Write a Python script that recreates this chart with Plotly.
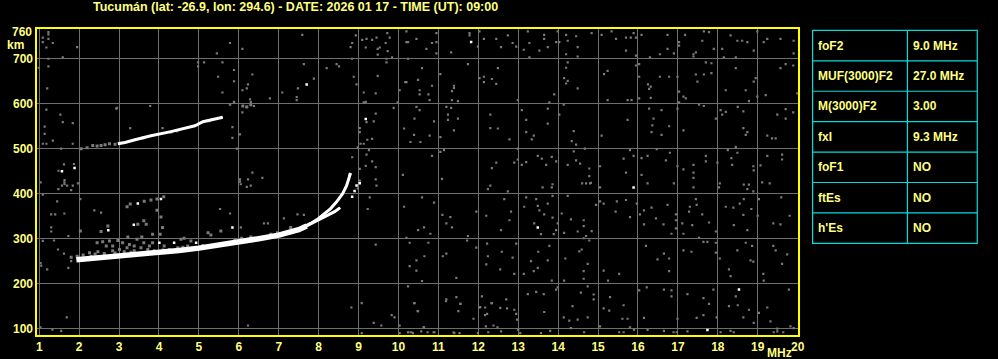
import plotly.graph_objects as go

# ---------------- data ----------------
title_text = "Tucumán (lat: -26.9, lon: 294.6) - DATE: 2026 01 17 - TIME (UT): 09:00"
x_ticks = list(range(1, 21))
y_ticks = [100, 200, 300, 400, 500, 600, 700]
y_top_label = 760

table_params = ["foF2", "MUF(3000)F2", "M(3000)F2", "fxI", "foF1", "ftEs", "h'Es"]
table_values = ["9.0 MHz", "27.0 MHz", "3.00", "9.3 MHz", "NO", "NO", "NO"]

# ordinary F trace (thick lower part, thinner upper part)
o_low_f = [1.93, 2.2, 2.5, 3.0, 3.5, 4.0, 4.5, 5.0, 5.5, 6.0, 6.5, 7.0, 7.5, 7.7]
o_low_h = [253, 255, 257, 260, 265, 269, 274, 279, 285, 291, 300, 308, 320, 328]
o_high_f = [7.6, 7.8, 8.0, 8.15, 8.3, 8.45, 8.6, 8.7, 8.8]
o_high_h = [325, 334, 345, 356, 367, 382, 400, 418, 446]
# extraordinary branch
x_f = [7.6, 7.8, 8.0, 8.2, 8.4, 8.54]
x_h = [324, 333, 341, 350, 360, 369]
x_dots = [(8.84, 393), (8.9, 406), (8.95, 418), (8.78, 442), (9.03, 423), (9.18, 566)]
# second hop trace
f2_white_f = [2.97, 3.15, 3.4, 3.8, 4.3, 4.65, 4.9, 5.1, 5.4, 5.6]
f2_white_h = [511, 514, 520, 529, 538, 545, 551, 560, 565, 570]
f2_grey = [(2.05, 500), (2.2, 502), (2.34, 507), (2.45, 506), (2.55, 507), (2.65, 509),
           (2.76, 511), (2.9, 510), (3.01, 512), (3.6, 524), (4.3, 537), (4.45, 540),
           (5.25, 562), (6.1, 595), (6.2, 593), (6.3, 598)]

# grey spread echoes around the main trace
spread = [(1.8, 259), (1.95, 261), (2.26, 269), (2.3, 261), (2.47, 271), (2.63, 267),
          (2.84, 273), (3.01, 276), (3.13, 271), (3.2, 280), (3.38, 273), (3.55, 280),
          (3.72, 276), (3.88, 273), (4.26, 276), (4.47, 280), (4.72, 284), (4.84, 276),
          (5.3, 284), (5.7, 291), (5.9, 296), (6.07, 301), (6.3, 304), (6.8, 310),
          (6.97, 313), (7.3, 325), (2.45, 291), (2.59, 293), (2.76, 295), (2.68, 284),
          (2.84, 284), (2.97, 296), (3.09, 291), (3.22, 304), (3.26, 287), (3.38, 284),
          (3.45, 299), (3.57, 304), (3.62, 291), (3.76, 284), (3.84, 291), (4.03, 310),
          (3.84, 310), (3.47, 332), (3.68, 332), (3.62, 340), (4.09, 325), (4.13, 284),
          (4.55, 299), (4.63, 301), (4.8, 295), (3.2, 371), (3.28, 377), (3.63, 383),
          (3.8, 386), (3.95, 388), (4.12, 393), (3.95, 363), (4.05, 348), (5.23, 313),
          (5.3, 308), (5.55, 317), (2.03, 317), (2.55, 316), (2.72, 328), (2.1, 264),
          (2.4, 266), (2.9, 268), (3.3, 270), (4.1, 275), (4.6, 281), (5.1, 285)]
white_dots = [(4.01, 291), (3.37, 331), (2.73, 319), (4.38, 291), (4.93, 291), (3.47, 378),
              (4.05, 388), (5.84, 325), (1.885, 457), (1.57, 450), (7.7, 643), (13.49, 325),
              (15.89, 414), (18.53, 187), (17.74, 97), (11.82, 737)]

noise_top = [(10.2, 761), (10.24, 737), (10.45, 744), (10.7, 722), (10.84, 735), (10.95, 757),
             (10.95, 737), (10.95, 712), (11.32, 714), (11.78, 757), (11.78, 752), (11.99, 727),
             (12.03, 761), (12.14, 744), (12.45, 744), (12.57, 726), (12.74, 752), (12.86, 735),
             (12.95, 727), (13.14, 720), (13.24, 761), (13.28, 735), (13.28, 703), (13.53, 718),
             (13.65, 753), (13.65, 744), (13.74, 726), (13.95, 737), (13.99, 761), (14.03, 737),
             (14.2, 753), (14.2, 710), (14.24, 740), (14.45, 750), (14.49, 726), (14.49, 705),
             (14.84, 757), (15.09, 753), (15.34, 761), (15.45, 744), (15.7, 747), (15.7, 718),
             (15.82, 747), (15.89, 757), (15.95, 747), (15.95, 707), (16.09, 753), (16.3, 703),
             (16.55, 710), (16.74, 753), (16.74, 722), (16.9, 712), (17.03, 737), (17.03, 729),
             (17.18, 753), (17.39, 710), (17.39, 705), (17.45, 714), (17.61, 740), (17.65, 761),
             (17.78, 759), (17.9, 722), (18.11, 722), (18.15, 703), (18.32, 752), (18.45, 703),
             (18.49, 740), (18.61, 740), (18.74, 737), (18.9, 718), (18.99, 761), (19.15, 737),
             (19.24, 744), (19.57, 744), (19.9, 740), (19.9, 712)]

noise_600 = [(10.24, 700), (10.59, 679), (10.2, 648), (10.49, 653), (10.53, 630), (10.53, 621),
             (10.75, 621), (10.84, 640), (10.78, 608), (11.05, 666), (11.39, 640), (11.39, 635),
             (11.34, 628), (11.34, 608), (11.49, 606), (11.74, 688), (12.03, 657), (12.14, 660),
             (12.14, 648), (12.34, 655), (12.45, 644), (12.49, 679), (12.99, 608), (13.78, 603),
             (13.9, 621), (14.2, 680), (14.24, 692), (14.15, 657), (14.24, 651), (14.2, 645),
             (14.49, 634), (15.15, 666), (15.24, 673), (15.24, 608), (15.74, 608), (15.84, 608),
             (15.95, 685), (16.03, 688), (16.03, 660), (16.03, 612), (16.25, 643), (16.32, 638),
             (16.28, 633), (16.32, 613), (16.55, 660), (16.78, 660), (16.99, 660), (17.03, 627),
             (17.03, 603), (17.14, 616), (17.2, 612), (17.45, 665), (17.49, 649), (17.65, 665),
             (17.7, 692), (17.84, 690), (17.84, 668), (18.2, 630), (18.45, 679), (18.7, 630),
             (18.9, 649), (18.95, 657), (18.99, 616), (19.2, 619), (18.78, 606), (19.57, 679),
             (19.7, 688), (19.89, 685), (19.99, 623)]

noise_500 = [(10.45, 593), (10.53, 586), (10.4, 567), (10.14, 545), (10.39, 531), (10.3, 515),
             (10.55, 515), (10.78, 529), (10.89, 561), (11.05, 526), (11.2, 593), (11.32, 591),
             (11.24, 576), (11.24, 564), (11.49, 567), (11.39, 541), (12.3, 576), (12.3, 546),
             (12.49, 545), (12.78, 521), (13.09, 586), (13.2, 564), (13.2, 537), (13.39, 529),
             (13.34, 521), (13.74, 589), (13.74, 556), (14.03, 576), (14.14, 598), (14.39, 539),
             (14.34, 517), (14.45, 509), (15.09, 529), (15.74, 564), (16.28, 589), (16.39, 567),
             (16.36, 552), (16.34, 537), (16.59, 586), (16.59, 531), (16.78, 550), (16.99, 589),
             (17.14, 541), (17.53, 598), (17.65, 595), (17.95, 567), (18.07, 586), (18.11, 576),
             (18.2, 582), (18.5, 593), (18.64, 583), (18.64, 546), (18.74, 537), (18.7, 531),
             (19.24, 529), (19.36, 523), (19.45, 523), (19.49, 576), (19.7, 588), (19.7, 567),
             (19.89, 581)]

noise_400 = [(10.84, 484), (11.05, 493), (11.14, 497), (10.11, 442), (11.09, 433), (12.34, 457),
             (12.45, 469), (12.9, 469), (12.99, 500), (12.99, 476), (13.09, 464), (13.2, 470),
             (13.49, 484), (13.59, 478), (13.7, 464), (13.84, 482), (13.95, 472), (14.24, 464),
             (14.39, 494), (14.45, 474), (14.55, 467), (14.67, 500), (14.78, 456), (14.78, 439),
             (14.82, 424), (15.05, 461), (15.64, 478), (15.7, 447), (15.8, 497), (15.89, 484),
             (16.09, 479), (16.09, 442), (16.24, 484), (16.47, 499), (16.7, 474), (16.8, 491),
             (16.99, 461), (17.14, 454), (17.39, 464), (17.39, 447), (17.39, 435), (17.7, 484),
             (17.7, 472), (17.99, 469), (18.25, 497), (18.34, 479), (18.36, 464), (18.45, 504),
             (18.49, 491), (18.89, 461), (18.9, 452), (19.07, 463), (19.24, 484), (19.61, 487),
             (19.61, 476)]

noise_300 = [(12.3, 418), (12.24, 410), (12.74, 405), (13.61, 414), (13.86, 421), (13.84, 414),
             (14.6, 423), (14.7, 423), (14.8, 423), (15.05, 414), (16.24, 423), (16.9, 423),
             (17.39, 414), (18.05, 423), (18.03, 414), (18.65, 420), (18.78, 420), (18.74, 410),
             (18.89, 405), (19.3, 423), (19.11, 425), (10.59, 392), (10.89, 380), (10.14, 371),
             (11.1, 353), (11.3, 348), (11.2, 334), (11.34, 325), (10.64, 325), (10.49, 319),
             (10.8, 311), (10.2, 302), (11.74, 306), (11.95, 360), (12.2, 351), (12.65, 388),
             (12.82, 360), (12.57, 319), (12.78, 341), (13.15, 371), (13.2, 392), (13.49, 373),
             (13.45, 388), (13.53, 363), (13.65, 354), (13.4, 334), (13.57, 310), (13.74, 378),
             (13.86, 395), (13.86, 347), (13.99, 334), (13.95, 319), (13.89, 310), (14.15, 313),
             (14.09, 356), (14.24, 395), (14.32, 343), (14.49, 316), (14.64, 341), (14.64, 328),
             (14.7, 306), (14.64, 301), (14.78, 296), (14.84, 317), (14.95, 375), (15.05, 383),
             (15.14, 378), (15.47, 383), (15.7, 386), (15.8, 348), (15.44, 360), (15.97, 378),
             (16.05, 354), (16.15, 363), (16.34, 369), (16.45, 345), (16.15, 332), (16.64, 332),
             (16.74, 375), (16.95, 354), (16.95, 341), (16.95, 323), (16.84, 311), (17.11, 334),
             (17.14, 311), (17.28, 360), (17.3, 371), (17.45, 388), (17.47, 375), (17.36, 330),
             (17.53, 302), (17.61, 354), (17.78, 336), (17.95, 316), (18.2, 371), (18.39, 369),
             (18.4, 330), (18.55, 378), (18.65, 388), (18.74, 319), (18.64, 353), (18.84, 366),
             (19.0, 351), (19.03, 388), (19.39, 334), (19.59, 392), (19.57, 332), (19.8, 351)]

noise_200 = [(10.28, 291), (10.75, 291), (10.65, 261), (10.45, 252), (10.28, 239), (10.45, 229),
             (10.59, 206), (11.11, 261), (11.2, 267), (11.45, 213), (11.72, 296), (11.95, 280),
             (12.22, 289), (12.24, 261), (12.2, 243), (12.55, 232), (12.59, 271), (12.86, 258),
             (12.9, 222), (12.95, 289), (13.14, 222), (13.32, 250), (13.39, 228), (13.49, 235),
             (13.5, 271), (13.74, 252), (13.78, 284), (13.84, 207), (14.15, 207), (14.18, 256),
             (14.53, 272), (14.59, 276), (14.64, 228), (14.64, 211), (14.74, 244), (15.14, 229),
             (15.25, 207), (15.53, 222), (16.2, 284), (16.49, 254), (16.65, 267), (16.78, 256),
             (16.78, 228), (17.14, 274), (17.34, 271), (17.64, 293), (17.74, 293), (17.95, 291),
             (17.95, 269), (18.05, 256), (18.28, 232), (18.32, 217), (18.49, 274), (18.7, 291),
             (18.82, 252), (18.86, 284), (18.89, 249), (19.14, 222), (19.15, 207), (19.39, 284),
             (19.45, 274), (19.61, 244), (19.74, 265)]

noise_100 = [(10.24, 194), (10.4, 157), (10.49, 139), (10.64, 103), (11.2, 165), (11.45, 170),
             (11.55, 155), (12.09, 172), (12.05, 148), (12.22, 133), (12.34, 157), (12.55, 146),
             (12.72, 145), (12.7, 165), (12.9, 142), (12.95, 133), (12.97, 120), (13.24, 177),
             (13.45, 182), (13.64, 177), (13.65, 137), (13.95, 187), (13.99, 192), (14.14, 125),
             (14.28, 118), (14.36, 150), (14.49, 120), (14.57, 180), (14.74, 194), (14.74, 125),
             (14.89, 176), (14.89, 165), (15.3, 170), (15.14, 145), (15.28, 140), (15.64, 152),
             (15.61, 122), (15.74, 122), (15.8, 103), (16.03, 185), (16.22, 192), (16.15, 124),
             (16.65, 187), (16.84, 172), (16.84, 185), (16.99, 122), (17.24, 177), (17.47, 124),
             (17.64, 168), (17.78, 155), (17.64, 130), (17.89, 187), (17.97, 125), (18.28, 150),
             (18.45, 172), (18.5, 152), (18.64, 125), (18.78, 142), (18.9, 113), (19.03, 135),
             (19.24, 147), (19.32, 116), (19.78, 187), (19.49, 100)]

noise_bottom = [(10.24, 92), (10.36, 90), (10.57, 94), (10.9, 92), (11.4, 90), (11.53, 90),
                (11.99, 90), (12.25, 92), (12.57, 94), (13.0, 97), (13.05, 90), (13.57, 90),
                (13.8, 95), (14.32, 101), (14.65, 92), (15.05, 105), (15.53, 92), (15.64, 92),
                (15.9, 97), (16.24, 97), (16.65, 95), (16.89, 92), (16.97, 92), (17.24, 94),
                (18.07, 92), (18.32, 95), (18.4, 92), (19.4, 92), (19.49, 94), (19.64, 92),
                (19.82, 105), (19.9, 101), (1.03, 103), (1.33, 98), (1.55, 95), (1.69, 125),
                (6.23, 107), (8.82, 147), (9.08, 157), (9.08, 90), (9.38, 113), (9.57, 107),
                (9.83, 130), (9.9, 125), (10.03, 107), (10.03, 90), (10.25, 92), (10.32, 92),
                (10.4, 157), (10.48, 139), (10.63, 103), (10.73, 92), (10.88, 92), (11.19, 161),
                (11.55, 155), (11.5, 139), (11.38, 92), (11.88, 122), (12.03, 147), (12.17, 147),
                (12.17, 130), (12.19, 105), (12.33, 157), (12.38, 107), (12.48, 103)]

noise_left = [(1.23, 759), (1.23, 754), (1.09, 747), (1.09, 737), (1.23, 744), (1.34, 735),
              (1.18, 725), (1.59, 703), (1.95, 726), (1.23, 700), (1.23, 683), (0.98, 680),
              (1.2, 634), (5.78, 735), (6.09, 722), (5.45, 712), (5.13, 692), (4.98, 692),
              (4.98, 683), (5.59, 692), (5.88, 675), (6.34, 665), (5.48, 660), (5.88, 650),
              (6.23, 643), (6.2, 634), (6.09, 630), (5.59, 625), (6.28, 610), (6.78, 612),
              (5.88, 603), (5.78, 598), (6.2, 593), (6.38, 595), (7.59, 753), (7.63, 688),
              (7.88, 656), (7.48, 634), (7.09, 625), (7.45, 615), (7.45, 608), (8.45, 688),
              (8.51, 683), (8.2, 679), (8.93, 752), (9.09, 742), (9.34, 742), (9.2, 744),
              (9.45, 747), (9.72, 757), (9.78, 747), (8.84, 735), (8.8, 726), (9.18, 725),
              (9.48, 722), (9.53, 725), (9.68, 735), (9.73, 717), (9.48, 709), (9.84, 703),
              (9.7, 700), (9.7, 692), (8.84, 700), (8.88, 660), (8.95, 643), (9.48, 662),
              (9.13, 625), (9.43, 623), (9.13, 603), (10.03, 630), (10.17, 648), (10.2, 737),
              (9.88, 591), (9.98, 603), (3.78, 595), (2.95, 591), (1.18, 587), (1.53, 576),
              (1.59, 559), (1.135, 549), (1.135, 533), (1.34, 518), (1.09, 511), (1.18, 511),
              (1.84, 557), (1.84, 511), (1.55, 500), (2.93, 589), (3.28, 546), (4.09, 546),
              (5.84, 548), (6.03, 532), (5.84, 524), (5.95, 500), (5.88, 604), (5.78, 599),
              (6.3, 604), (6.09, 581), (1.62, 465), (1.87, 466), (1.48, 451), (1.635, 430),
              (1.635, 421), (1.57, 418), (1.8, 408), (1.48, 410), (1.97, 423), (1.035, 425),
              (6.03, 432), (6.03, 427), (6.34, 447), (6.23, 432), (6.59, 435), (6.3, 418),
              (9.2, 559), (9.03, 546), (9.03, 537), (9.38, 561), (9.22, 520), (9.34, 522),
              (9.05, 511), (9.13, 511), (8.98, 503), (9.43, 578), (9.18, 604), (9.26, 497),
              (9.2, 487), (9.34, 472), (9.18, 462), (9.43, 459), (8.84, 481), (9.03, 455),
              (8.76, 432), (9.03, 429), (8.98, 412), (9.43, 432), (1.63, 425), (1.7, 418),
              (1.84, 418), (1.09, 398), (1.45, 383), (1.3, 354), (1.4, 354), (1.63, 356),
              (1.3, 325), (1.3, 316), (1.73, 306), (1.09, 295), (1.37, 296), (1.47, 276),
              (1.62, 267), (1.8, 250), (1.73, 235), (1.035, 246), (2.03, 388), (2.38, 363),
              (2.55, 358), (5.53, 366), (5.78, 356), (6.05, 421), (6.05, 325), (6.2, 415),
              (6.63, 334), (6.73, 334), (7.13, 345), (7.47, 354), (7.63, 353), (7.22, 317),
              (9.28, 392), (9.43, 287), (9.23, 366), (9.45, 418), (1.05, 240), (1.2, 232)]

# ---------------- figure ----------------
W, H = 998, 359
S = 1.007  # compensates the slight downscale observed in the rendered page
YELLOW = "#ffff00"
TXT = "#ffff80"
GREY = "#7a7a7a"
CYAN = "#00dcdc"
FONT = "Liberation Sans"


def px(xp):
    return xp * S / W


def py(yp):
    return 1 - yp * S / H


fig = go.Figure()


def add_pts(pairs, color, size):
    fig.add_trace(go.Scatter(
        x=[p[0] for p in pairs], y=[p[1] for p in pairs], mode="markers",
        marker=dict(symbol="square", size=size, color=color, line=dict(width=0)),
        hoverinfo="skip", showlegend=False))


for grp in [noise_top, noise_600, noise_500, noise_400, noise_300, noise_200, noise_100,
            noise_bottom, noise_left]:
    add_pts(grp, GREY, 2.2)
add_pts(spread, GREY, 3)
add_pts(f2_grey, GREY, 3)

fig.add_trace(go.Scatter(x=o_low_f, y=o_low_h, mode="lines",
                         line=dict(color="white", width=5.5), hoverinfo="skip", showlegend=False))
fig.add_trace(go.Scatter(x=o_high_f, y=o_high_h, mode="lines",
                         line=dict(color="white", width=3), hoverinfo="skip", showlegend=False))
fig.add_trace(go.Scatter(x=x_f, y=x_h, mode="lines",
                         line=dict(color="white", width=3), hoverinfo="skip", showlegend=False))
fig.add_trace(go.Scatter(x=f2_white_f, y=f2_white_h, mode="lines",
                         line=dict(color="white", width=3), hoverinfo="skip", showlegend=False))
add_pts(x_dots, "white", 2.5)
add_pts(white_dots, "white", 2.5)

# parameter table drawn as shapes + text
tx0, tx1, tmid = 812.3, 977.3, 907.3
ty0, ty1 = 30.3, 242.3
n = len(table_params)
rh = (ty1 - ty0) / n
shapes = [dict(type="rect", xref="paper", yref="paper", x0=px(tx0), x1=px(tx1),
               y0=py(ty1), y1=py(ty0), line=dict(color=CYAN, width=1.2), layer="above"),
          dict(type="line", xref="paper", yref="paper", x0=px(tmid), x1=px(tmid),
               y0=py(ty1), y1=py(ty0), line=dict(color=CYAN, width=1.2), layer="above")]
for i in range(1, n):
    yy = ty0 + i * rh
    shapes.append(dict(type="line", xref="paper", yref="paper", x0=px(tx0), x1=px(tx1),
                       y0=py(yy), y1=py(yy), line=dict(color=CYAN, width=1.2), layer="above"))

tfont = dict(family=FONT, size=12, color=TXT, weight="bold")
annotations = [
    dict(text=title_text, xref="paper", yref="paper", x=px(294.5), y=py(7),
         xanchor="center", yanchor="middle", showarrow=False,
         font=dict(family=FONT, size=12.5, color=TXT, weight="bold")),
    dict(text=str(y_top_label), xref="paper", yref="y", x=px(32.5), y=y_top_label,
         xanchor="right", yanchor="middle", showarrow=False, font=tfont),
    dict(text="km", xref="paper", yref="paper", x=px(14), y=py(45),
         xanchor="center", yanchor="middle", showarrow=False, font=tfont),
    dict(text="MHz", xref="x", yref="paper", x=19.55, y=py(352),
         xanchor="center", yanchor="middle", showarrow=False, font=tfont),
]
for i, (p, v) in enumerate(zip(table_params, table_values)):
    yc = ty0 + (i + 0.5) * rh
    annotations.append(dict(text=p, xref="paper", yref="paper", x=px(816), y=py(yc),
                            xanchor="left", yanchor="middle", showarrow=False, font=tfont))
    annotations.append(dict(text=v, xref="paper", yref="paper", x=px(911), y=py(yc),
                            xanchor="left", yanchor="middle", showarrow=False, font=tfont))

fig.update_layout(
    width=W, height=H,
    margin=dict(l=0, r=0, t=0, b=0),
    paper_bgcolor="black", plot_bgcolor="black",
    showlegend=False,
    xaxis=dict(domain=[px(35.5), px(797.5)], range=[0.955, 20.005],
               tickvals=x_ticks, ticktext=[str(v) for v in x_ticks],
               showgrid=True, gridcolor="#6e6e6e", gridwidth=1, zeroline=False,
               showline=True, linecolor=YELLOW, linewidth=2, mirror=True, ticks="",
               tickfont=tfont),
    yaxis=dict(domain=[py(333.3), py(29.3)], range=[86.6, 765.2],
               tickvals=y_ticks, ticktext=[str(v) for v in y_ticks],
               showgrid=True, gridcolor="#6e6e6e", gridwidth=1, zeroline=False,
               showline=True, linecolor=YELLOW, linewidth=2, mirror=True, ticks="",
               tickfont=tfont),
    shapes=shapes,
    annotations=annotations,
)

fig.write_html("out.html")
